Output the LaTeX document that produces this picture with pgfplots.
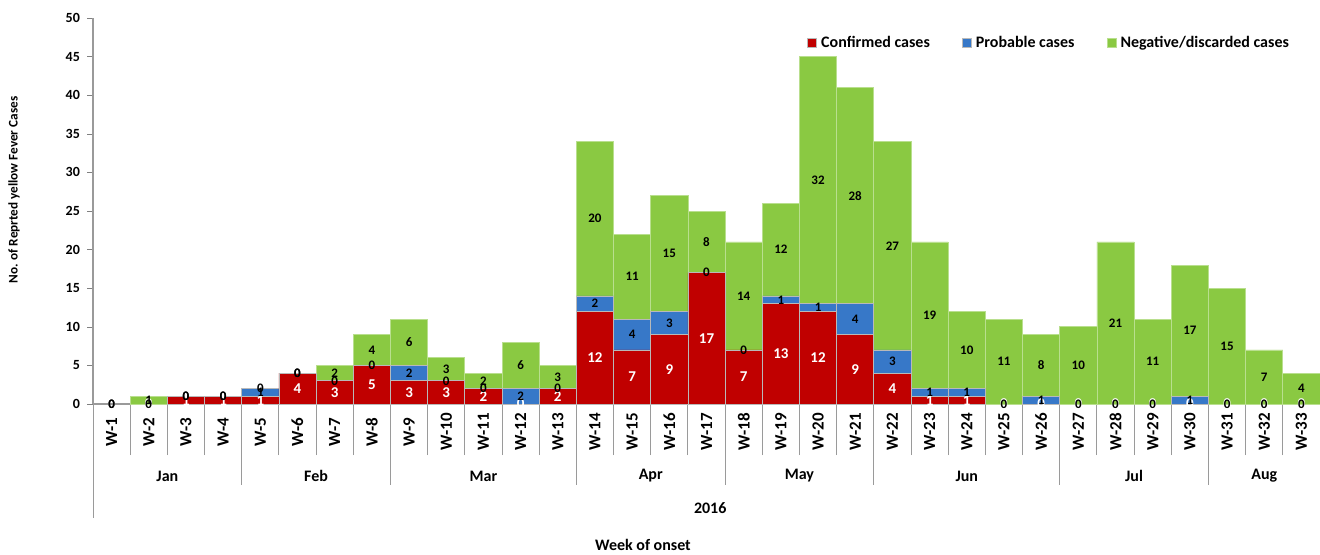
\documentclass[border=0pt]{standalone}
\usepackage{fontspec}
\setmainfont{Carlito}
\usepackage{pgfplots}
\usepackage{pgfplotstable}
\pgfplotsset{compat=1.18}
\definecolor{cRed}{HTML}{C00000}
\definecolor{cBlue}{HTML}{3778C8}
\definecolor{cGreen}{HTML}{8AC942}
\definecolor{axGray}{HTML}{9A9A9A}
\pgfplotstableread{
x C P N
1 0 0 0
2 0 0 1
3 1 0 0
4 1 0 0
5 1 1 0
6 4 0 0
7 3 0 2
8 5 0 4
9 3 2 6
10 3 0 3
11 2 0 2
12 0 2 6
13 2 0 3
14 12 2 20
15 7 4 11
16 9 3 15
17 17 0 8
18 7 0 14
19 13 1 12
20 12 1 32
21 9 4 28
22 4 3 27
23 1 1 19
24 1 1 10
25 0 0 11
26 0 1 8
27 0 0 10
28 0 0 21
29 0 0 11
30 0 1 17
31 0 0 15
32 0 0 7
33 0 0 4
}\data
\newcommand{\lab}{\fontsize{8}{9.6}\selectfont\bfseries}
\pgfplotsset{
  common/.style={
    x=18.59pt, y=3.86pt, xmin=0.5, xmax=33.5, ymin=0, ymax=50,
    enlargelimits=false, /pgf/number format/assume math mode=true,
  },
  legsq/.style={legend image code/.code={\fill[##1] (0pt,-2.3pt) rectangle (4.6pt,2.3pt);}},
}
\begin{document}
\begin{tikzpicture}
\begin{axis}[common, ybar stacked, bar width=1, clip=false,
  axis lines*=left, axis line style={axGray, line width=0.6pt},
  ytick={0,5,...,50}, tick align=outside, major tick length=3pt,
  yticklabel style={font=\fontsize{7}{8}\selectfont\bfseries},
  xtick={1,...,33},
  xticklabels={W-1,W-2,W-3,W-4,W-5,W-6,W-7,W-8,W-9,W-10,W-11,W-12,W-13,W-14,W-15,W-16,W-17,W-18,W-19,W-20,W-21,W-22,W-23,W-24,W-25,W-26,W-27,W-28,W-29,W-30,W-31,W-32,W-33},
  xticklabel style={rotate=90, anchor=center, font=\fontsize{8.5}{10}\selectfont\bfseries},
  xticklabel shift=11pt,
  major x tick style={draw=none},
  minor xtick={0.5,1.5,...,33.5}, minor tick length=25.5pt,
  minor x tick style={axGray, line width=0.5pt},
  legend style={at={(0.78,0.935)}, anchor=center, draw=none, fill=none,
    legend columns=3, font=\lab,
    /tikz/every even column/.append style={column sep=14pt}},
  legend cell align=left,
]
\addplot[fill=cRed, draw=gray!55, line width=0.4pt, legsq] table[x=x, y=C] {\data};
\addlegendentry{Confirmed cases}
\addplot[fill=cBlue, draw=gray!55, line width=0.4pt, legsq] table[x=x, y=P] {\data};
\addlegendentry{Probable cases}
\addplot[fill=cGreen, draw=cGreen!60!white, line width=0.4pt, legsq] table[x=x, y=N] {\data};
\addlegendentry{Negative/discarded cases}
\coordinate (O) at (rel axis cs:0,0);
% category frame
\draw[axGray, line width=0.5pt] (axis cs:0.5,0) -- ([yshift=-57pt]axis cs:0.5,0);
\draw[axGray, line width=0.5pt] (axis cs:4.5,0) -- ([yshift=-40.5pt]axis cs:4.5,0);
\draw[axGray, line width=0.5pt] (axis cs:8.5,0) -- ([yshift=-40.5pt]axis cs:8.5,0);
\draw[axGray, line width=0.5pt] (axis cs:13.5,0) -- ([yshift=-40.5pt]axis cs:13.5,0);
\draw[axGray, line width=0.5pt] (axis cs:17.5,0) -- ([yshift=-40.5pt]axis cs:17.5,0);
\draw[axGray, line width=0.5pt] (axis cs:21.5,0) -- ([yshift=-40.5pt]axis cs:21.5,0);
\draw[axGray, line width=0.5pt] (axis cs:26.5,0) -- ([yshift=-40.5pt]axis cs:26.5,0);
\draw[axGray, line width=0.5pt] (axis cs:30.5,0) -- ([yshift=-40.5pt]axis cs:30.5,0);
\node[font=\lab] at ([yshift=-36pt]axis cs:2.5,0) {Jan};
\node[font=\lab] at ([yshift=-36pt]axis cs:6.5,0) {Feb};
\node[font=\lab] at ([yshift=-36pt]axis cs:11,0) {Mar};
\node[font=\lab] at ([yshift=-36pt]axis cs:15.5,0) {Apr};
\node[font=\lab] at ([yshift=-36pt]axis cs:19.5,0) {May};
\node[font=\lab] at ([yshift=-36pt]axis cs:24,0) {Jun};
\node[font=\lab] at ([yshift=-36pt]axis cs:28.5,0) {Jul};
\node[font=\lab] at ([yshift=-36pt]axis cs:32,0) {Aug};
\node[font=\lab] at ([yshift=-52pt]axis cs:17.1,0) {2016};
\node[font=\lab, inner sep=1pt] at ([yshift=-70.5pt]axis cs:15.29,0) {Week of onset};
\node[font=\fontsize{6.6}{8}\selectfont\bfseries, rotate=90] at ([xshift=-39.5pt]rel axis cs:0,0.554) {No. of Reprted yellow Fever Cases};
\end{axis}
\begin{axis}[common, hide axis, clip=false]
\addplot[draw=none, mark=none, nodes near coords, point meta=explicit,
  nodes near coords style={anchor=center, text=white, font=\fontsize{7.5}{8}\selectfont\bfseries}]
  table[x=x, y expr=\thisrow{C}/2, meta=C] {\data};
\addplot[draw=none, mark=none, nodes near coords, point meta=explicit,
  nodes near coords style={anchor=center, text=black, font=\fontsize{6.5}{7}\selectfont\bfseries}]
  table[x=x, y expr=\thisrow{C}+\thisrow{P}/2, meta=P] {\data};
\addplot[draw=none, mark=none, nodes near coords, point meta=explicit,
  nodes near coords style={anchor=center, text=black, font=\fontsize{6.5}{7}\selectfont\bfseries}]
  table[x=x, y expr=\thisrow{C}+\thisrow{P}+\thisrow{N}/2, meta=N] {\data};
\end{axis}
\pgfresetboundingbox
\path[use as bounding box] ([xshift=-46.5pt,yshift=-75pt]O) rectangle ([xshift=613.47pt,yshift=202pt]O);
\end{tikzpicture}
\end{document}
